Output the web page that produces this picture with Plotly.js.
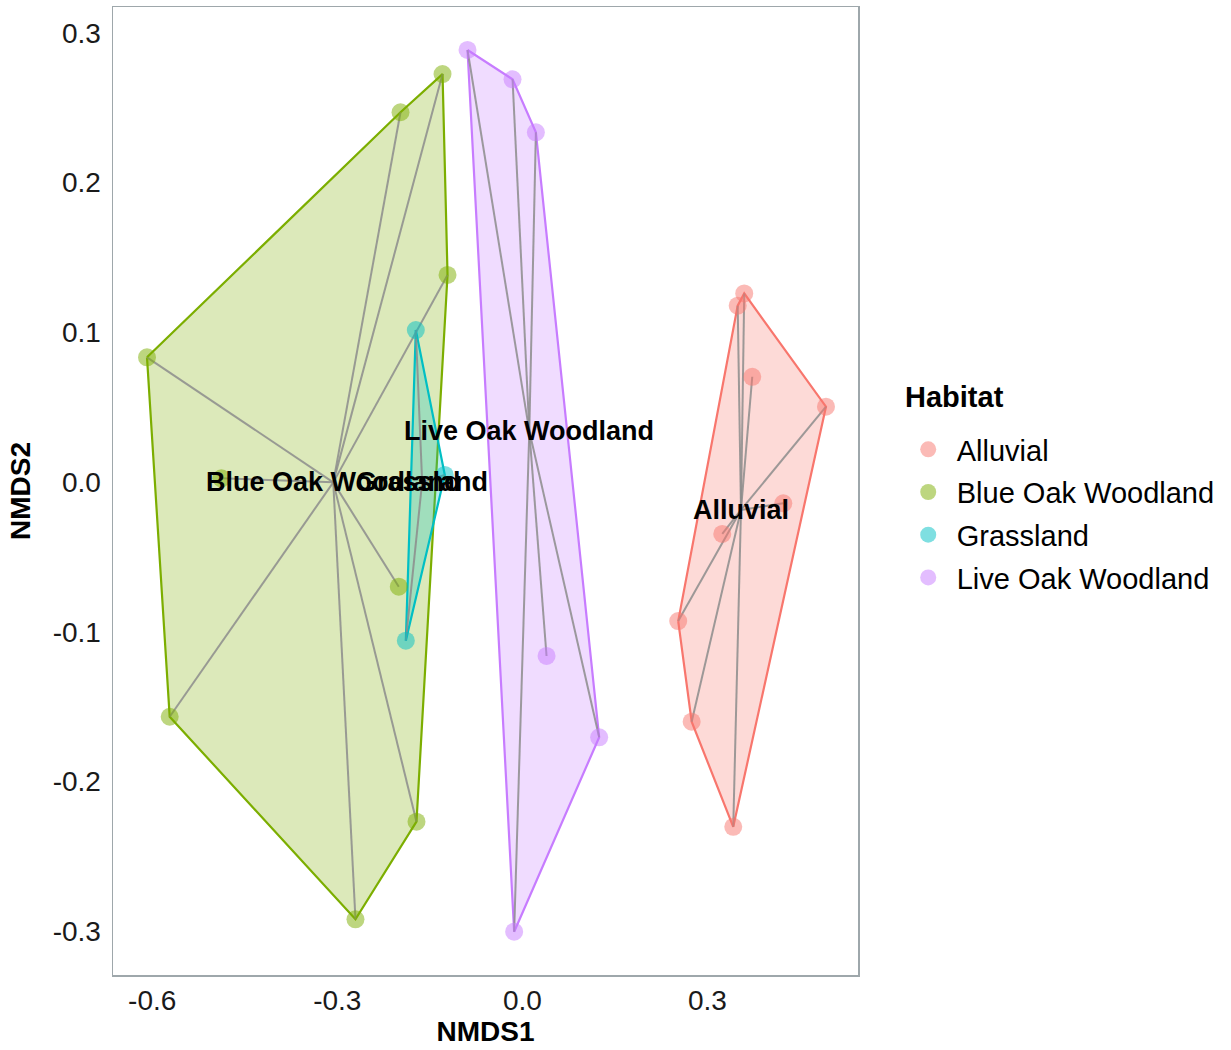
<!DOCTYPE html>
<html>
<head>
<meta charset="utf-8">
<script src="https://cdn.plot.ly/plotly-3.0.1.min.js"></script>
<style>
  html, body { margin: 0; padding: 0; background: #ffffff; }
  #chart { width: 1231px; height: 1050px; }
</style>
</head>
<body>
<div id="chart"></div>
<script>
// NMDS ordination scores by habitat
const habitats = ['Alluvial', 'Blue Oak Woodland', 'Grassland', 'Live Oak Woodland'];

const alluvialX = [0.3596, 0.3490, 0.3726, 0.4921, 0.4229, 0.3240, 0.2526, 0.2744, 0.3418];
const alluvialY = [0.1260, 0.1178, 0.0703, 0.0503, -0.0142, -0.0347, -0.0929, -0.1601, -0.2303];

const blueOakX = [-0.1294, -0.1975, -0.1213, -0.6084, -0.2003, -0.4878, -0.5716, -0.1716, -0.2705];
const blueOakY = [0.2725, 0.2470, 0.1383, 0.0833, -0.0699, 0.0025, -0.1568, -0.2269, -0.2921];

const grassX = [-0.1727, -0.1889, -0.1257];
const grassY = [0.1015, -0.1060, 0.0047];

const liveOakX = [-0.0889, -0.0159, 0.0219, 0.0392, 0.1245, -0.0133];
const liveOakY = [0.2886, 0.2690, 0.2336, -0.1162, -0.1705, -0.3004];

const xTicks = [-0.6, -0.3, 0.0, 0.3];
const xTickLabels = ['-0.6', '-0.3', '0.0', '0.3'];
const yTicks = [-0.3, -0.2, -0.1, 0.0, 0.1, 0.2, 0.3];
const yTickLabels = ['-0.3', '-0.2', '-0.1', '0.0', '0.1', '0.2', '0.3'];

const groupX = [alluvialX, blueOakX, grassX, liveOakX];
const groupY = [alluvialY, blueOakY, grassY, liveOakY];
const colors = ['#F8766D', '#7CAE00', '#00BFC4', '#C77CFF'];

function rgba(hex, a) {
  const n = parseInt(hex.slice(1), 16);
  return `rgba(${(n >> 16) & 255},${(n >> 8) & 255},${n & 255},${a})`;
}

// Monotone-chain convex hull
function hull(xs, ys) {
  const pts = xs.map((x, i) => [x, ys[i]]).sort((a, b) => a[0] - b[0] || a[1] - b[1]);
  const cross = (o, a, b) => (a[0] - o[0]) * (b[1] - o[1]) - (a[1] - o[1]) * (b[0] - o[0]);
  const lower = [], upper = [];
  for (const p of pts) {
    while (lower.length >= 2 && cross(lower[lower.length - 2], lower[lower.length - 1], p) <= 0) lower.pop();
    lower.push(p);
  }
  for (let i = pts.length - 1; i >= 0; i--) {
    const p = pts[i];
    while (upper.length >= 2 && cross(upper[upper.length - 2], upper[upper.length - 1], p) <= 0) upper.pop();
    upper.push(p);
  }
  upper.pop(); lower.pop();
  const h = lower.concat(upper);
  h.push(h[0]);
  return h;
}

const mean = a => a.reduce((s, v) => s + v, 0) / a.length;
const font = 'Liberation Sans, Arial, sans-serif';

const hullTraces = [], spiderTraces = [], pointTraces = [], annotations = [];

habitats.forEach((name, g) => {
  const xs = groupX[g], ys = groupY[g];
  const cx = mean(xs), cy = mean(ys);
  const h = hull(xs, ys);

  hullTraces.push({
    type: 'scatter', mode: 'lines',
    x: h.map(p => p[0]), y: h.map(p => p[1]),
    fill: 'toself', fillcolor: rgba(colors[g], 0.27),
    line: { color: colors[g], width: 2.2 },
    hoverinfo: 'skip', showlegend: false
  });

  // spokes from the group centroid to each site
  const sx = [], sy = [];
  xs.forEach((x, i) => { sx.push(cx, x, null); sy.push(cy, ys[i], null); });
  spiderTraces.push({
    type: 'scatter', mode: 'lines', x: sx, y: sy,
    line: { color: 'rgba(140,140,140,0.85)', width: 2 },
    hoverinfo: 'skip', showlegend: false
  });

  pointTraces.push({
    type: 'scatter', mode: 'markers', name: name,
    x: xs, y: ys, legendgroup: name,
    marker: { size: 18, color: rgba(colors[g], 0.5), line: { width: 0 } }
  });

  annotations.push({
    x: cx, y: cy, xref: 'x', yref: 'y', text: name, showarrow: false,
    font: { family: font, size: 27, color: '#000000', weight: 'bold' }
  });
});

// legend heading
annotations.push({
  x: 1.061, y: 0.5966, xref: 'paper', yref: 'paper', xanchor: 'left', yanchor: 'middle',
  text: 'Habitat', showarrow: false,
  font: { family: font, size: 29, color: '#000000', weight: 'bold' }
});

const layout = {
  width: 1231, height: 1050,
  margin: { l: 113, r: 373, t: 7, b: 75 },
  paper_bgcolor: '#ffffff', plot_bgcolor: '#ffffff',
  font: { family: font, size: 28, color: '#1a1a1a' },
  xaxis: {
    range: [-0.6635, 0.544], tickvals: xTicks, ticktext: xTickLabels,
    showgrid: false, zeroline: false, ticks: '',
    showline: true, mirror: true, linecolor: '#9ea7ab', linewidth: 1.5,
    tickfont: { size: 28, color: '#1a1a1a' },
    title: { text: 'NMDS1', font: { size: 28, color: '#000000', weight: 'bold' }, standoff: 4 }
  },
  yaxis: {
    range: [-0.3293, 0.3173], tickvals: yTicks, ticktext: yTickLabels,
    showgrid: false, zeroline: false, ticks: '', ticklabelstandoff: 5,
    showline: true, mirror: true, linecolor: '#9ea7ab', linewidth: 1.5,
    tickfont: { size: 28, color: '#1a1a1a' },
    title: { text: 'NMDS2', font: { size: 28, color: '#000000', weight: 'bold' }, standoff: 14 }
  },
  legend: {
    x: 1.056, xanchor: 'left', y: 0.4768, yanchor: 'middle',
    traceorder: 'grouped', tracegroupgap: 2, itemwidth: 47,
    font: { size: 29, color: '#000000' },
    bgcolor: 'rgba(0,0,0,0)'
  },
  annotations: annotations,
  showlegend: true
};

Plotly.newPlot('chart', hullTraces.concat(spiderTraces, pointTraces), layout, { displayModeBar: false, staticPlot: true });
</script>
</body>
</html>
